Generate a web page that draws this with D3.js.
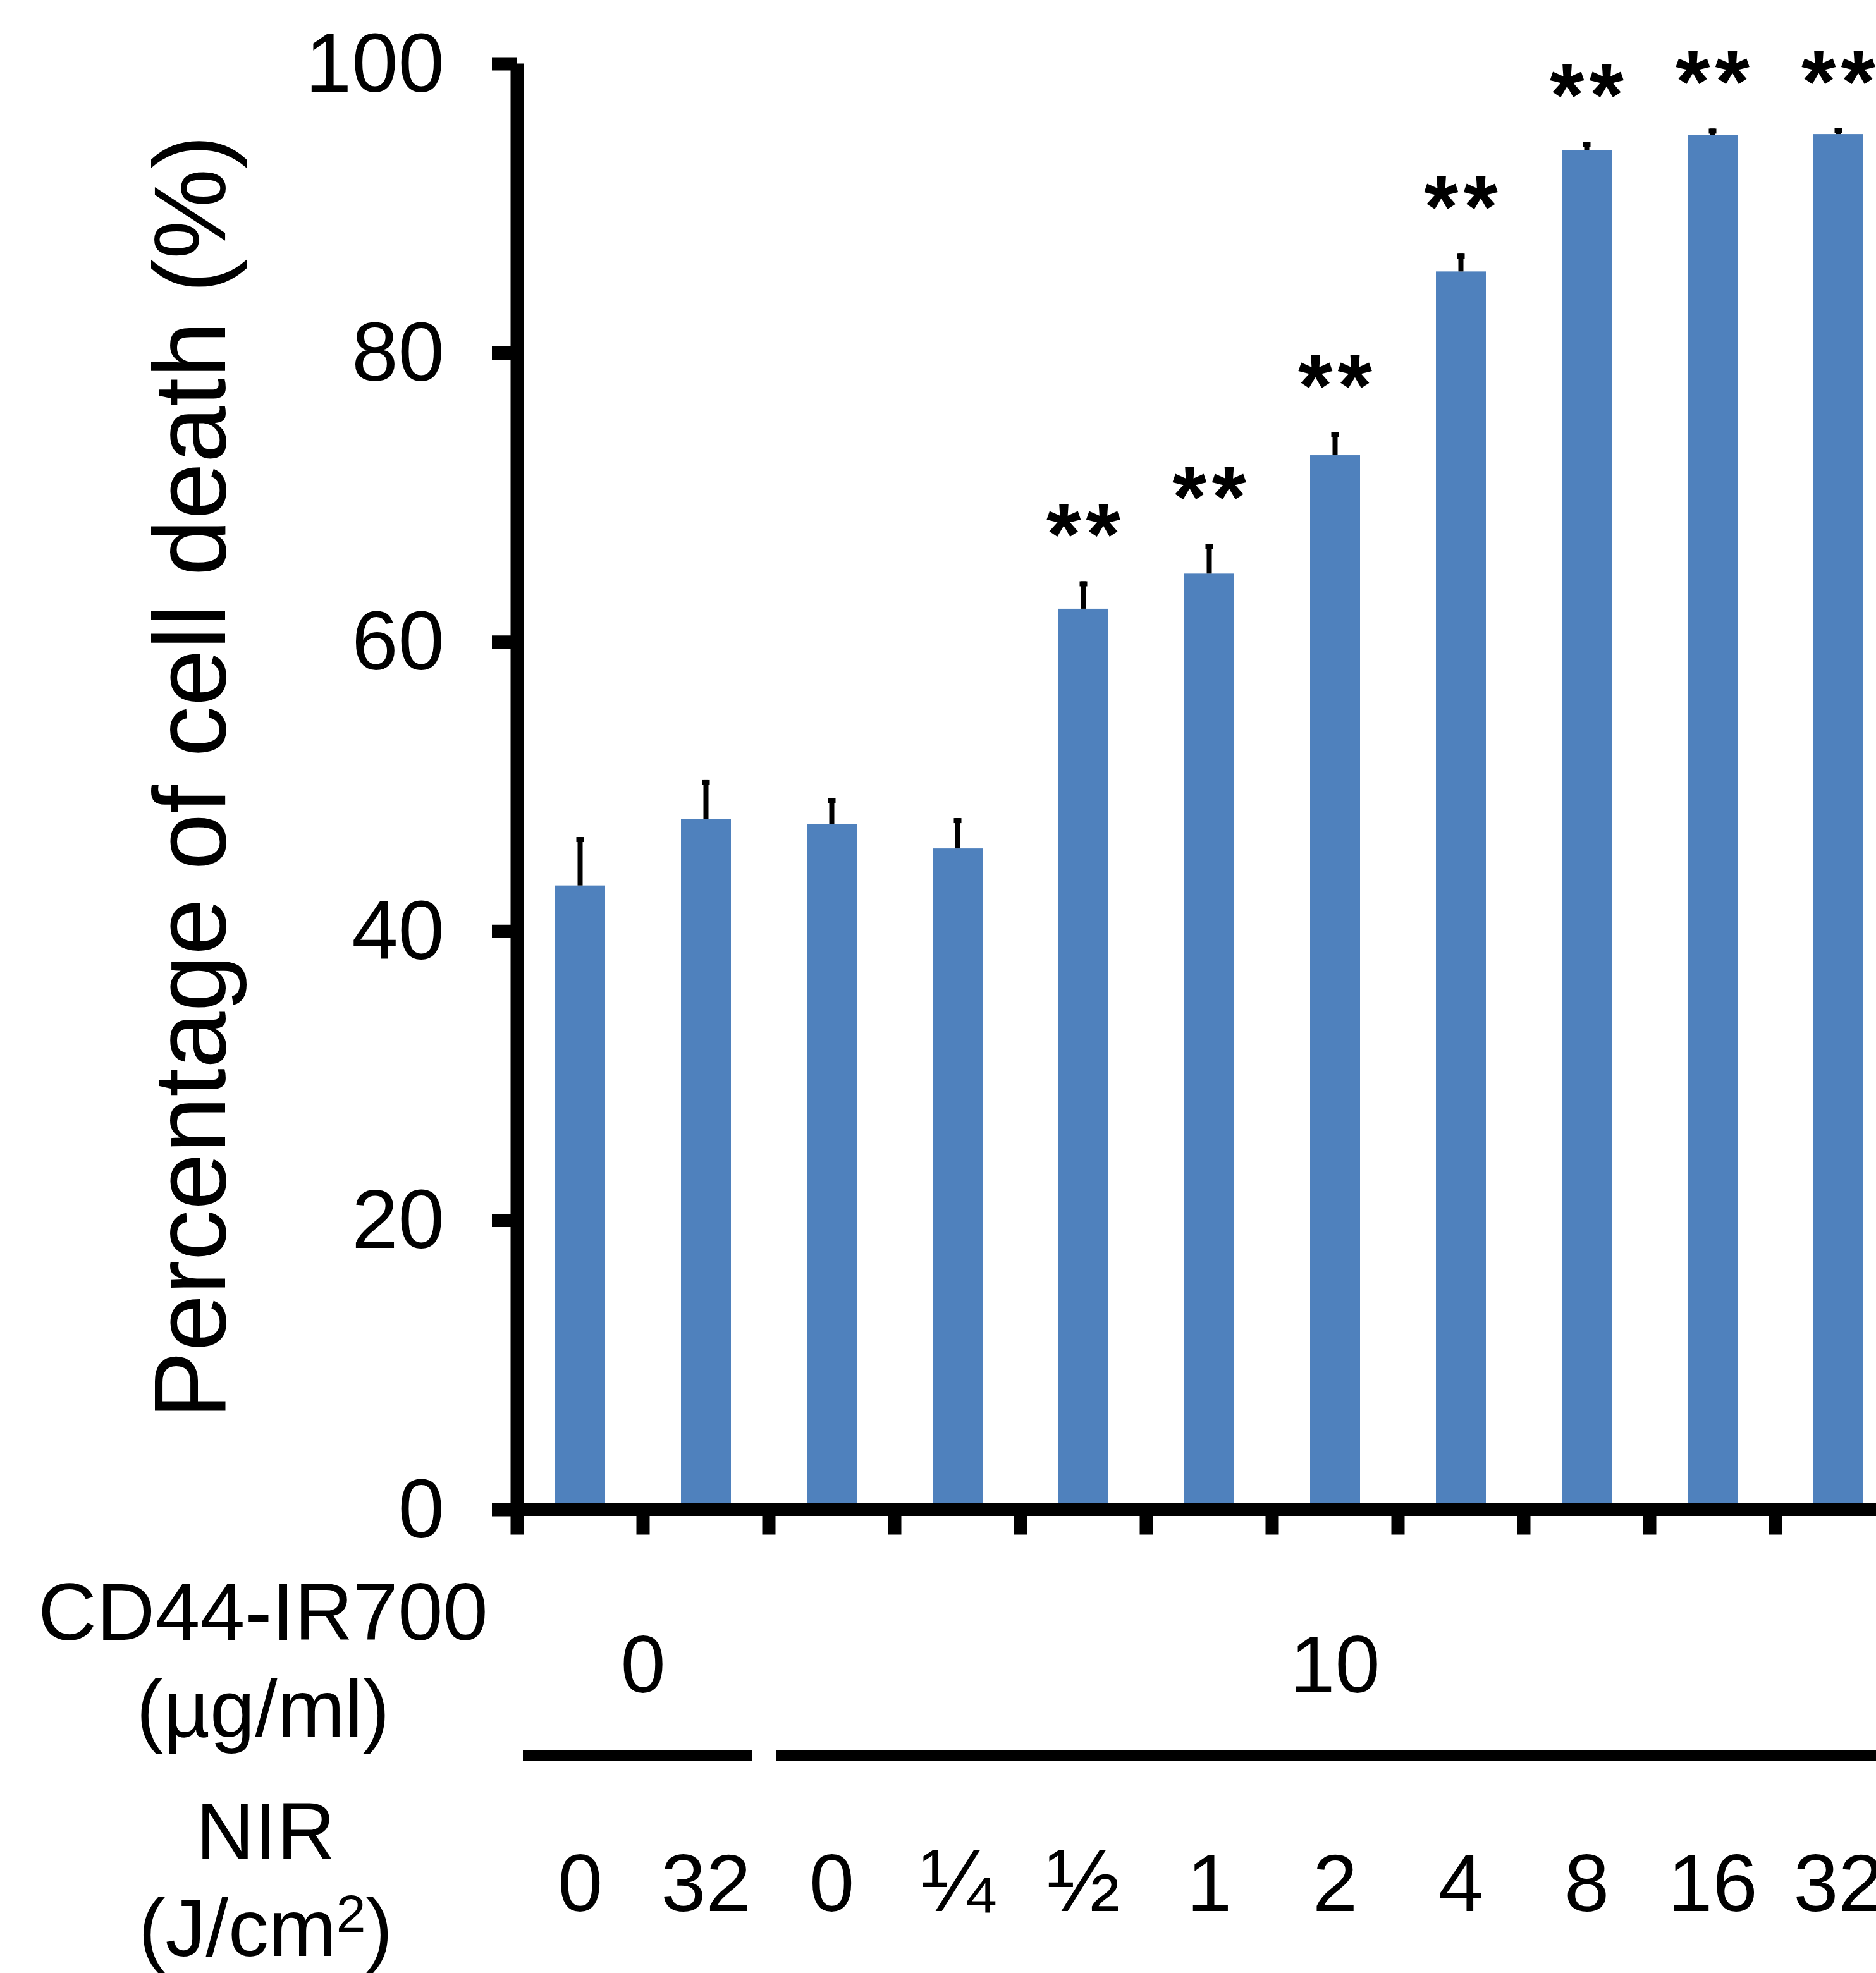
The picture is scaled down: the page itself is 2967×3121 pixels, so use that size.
<!DOCTYPE html>
<html>
<head>
<meta charset="utf-8">
<script src="https://cdn.jsdelivr.net/npm/d3@7"></script>
<style>
  html, body { margin: 0; padding: 0; background: #ffffff; }
  svg { display: block; }
  text { font-family: "Liberation Sans", Arial, sans-serif; fill: #000; }
</style>
</head>
<body>
<script>
// NIR light dose for each condition (J/cm²)
const nirLabels = ["0", "32", "0", "¼", "½", "1", "2", "4", "8", "16", "32"];
// Mean percentage of cell death and its error (SEM)
const deathPct = [43.15, 47.74, 47.42, 45.71, 62.29, 64.72, 72.91, 85.62, 94.03, 95.04, 95.12];
const errPct   = [3.35, 2.70, 1.76, 2.10, 1.90, 2.07, 1.58, 1.23, 0.55, 0.46, 0.42];
// Significance markers
const signif = ["", "", "", "", "**", "**", "**", "**", "**", "**", "**"];
// CD44-IR700 concentration groups (µg/ml), given as ranges of condition indices
const doseLabels = ["0", "10"];
const doseFrom   = [0, 2];
const doseTo     = [2, 11];
// Y-axis ticks
const yTicks = [0, 20, 40, 60, 80, 100];

const W = 2967, H = 3121;
const svg = d3.select("body").append("svg")
  .attr("width", W).attr("height", H)
  .attr("viewBox", `0 0 ${W} ${H}`);
svg.append("rect").attr("width", W).attr("height", H).attr("fill", "#fff");

const axisX = 818, axisY = 2387.5, step = 199;
const n = deathPct.length;
const x = d3.scaleBand().domain(d3.range(n)).range([axisX, axisX + step * n]).padding(0);
const barW = x.bandwidth() * 0.397;
const y = d3.scaleLinear().domain([0, 100]).range([axisY, 100.5]);
const boundary = i => axisX + x.step() * i;
const cx = i => x(i) + x.bandwidth() / 2;

const AXW = 21;

// Bars
svg.append("g").selectAll("rect").data(deathPct).join("rect")
  .attr("x", (d, i) => cx(i) - barW / 2)
  .attr("width", barW)
  .attr("y", d => y(d))
  .attr("height", d => y(0) - y(d))
  .attr("fill", "#4F81BD");

// Error bars (upper only)
const eb = svg.append("g");
eb.selectAll("line").data(deathPct).join("line")
  .attr("x1", (d, i) => cx(i))
  .attr("x2", (d, i) => cx(i))
  .attr("y1", d => y(d))
  .attr("y2", (d, i) => y(d + errPct[i]))
  .attr("stroke", "#000").attr("stroke-width", 8);
eb.selectAll("rect").data(deathPct).join("rect")
  .attr("x", (d, i) => cx(i) - 6)
  .attr("y", (d, i) => y(d + errPct[i]))
  .attr("width", 12).attr("height", 8)
  .attr("fill", "#000");

// Significance asterisks
svg.append("g").selectAll("text").data(signif).join("text")
  .attr("x", (d, i) => cx(i) + 4)
  .attr("y", (d, i) => y(deathPct[i] + errPct[i]) - 26)
  .attr("text-anchor", "middle")
  .attr("font-size", 140)
  .attr("font-weight", "bold")
  .attr("letter-spacing", 8)
  .text(d => d);

// Y axis
const yAxis = d3.axisLeft(y).tickValues(yTicks).tickSize(40).tickPadding(75).tickSizeOuter(0);
const gy = svg.append("g").attr("transform", `translate(${axisX},0)`).call(yAxis);
gy.select(".domain").remove();
gy.selectAll(".tick line").attr("stroke", "#000").attr("stroke-width", AXW);
gy.selectAll(".tick text")
  .attr("font-size", 132)
  .attr("font-family", '"Liberation Sans", Arial, sans-serif')
  .attr("dy", "0.33em");
svg.append("line")
  .attr("x1", axisX).attr("x2", axisX)
  .attr("y1", y(100)).attr("y2", axisY + 40)
  .attr("stroke", "#000").attr("stroke-width", AXW);

// X axis line and category boundary ticks
svg.append("line")
  .attr("x1", axisX - 40).attr("x2", boundary(n))
  .attr("y1", axisY).attr("y2", axisY)
  .attr("stroke", "#000").attr("stroke-width", AXW);
svg.append("g").selectAll("line").data(d3.range(1, n + 1)).join("line")
  .attr("x1", i => boundary(i)).attr("x2", i => boundary(i))
  .attr("y1", axisY).attr("y2", axisY + 40)
  .attr("stroke", "#000").attr("stroke-width", AXW);

// Y axis title
svg.append("text")
  .attr("transform", `translate(356,1229) rotate(-90)`)
  .attr("text-anchor", "middle")
  .attr("font-size", 161)
  .text("Percentage of cell death (%)");

// Row headers
const hx = 416;
svg.append("text").attr("x", hx).attr("y", 2594).attr("text-anchor", "middle")
  .attr("font-size", 128).text("CD44-IR700");
svg.append("text").attr("x", hx).attr("y", 2747).attr("text-anchor", "middle")
  .attr("font-size", 128).text("(µg/ml)");
svg.append("text").attr("x", hx + 4).attr("y", 2941).attr("text-anchor", "middle")
  .attr("font-size", 128).text("NIR");
const unit = svg.append("text").attr("x", hx + 4).attr("y", 3094).attr("text-anchor", "middle")
  .attr("font-size", 128);
unit.append("tspan").text("(J/cm");
unit.append("tspan").attr("font-size", 84).attr("dy", -38).text("2");
unit.append("tspan").attr("dy", 38).text(")");

// Concentration groups: label and underline
const grp = svg.append("g");
grp.selectAll("text").data(doseLabels).join("text")
  .attr("x", (d, i) => (boundary(doseFrom[i]) + boundary(doseTo[i])) / 2)
  .attr("y", 2677)
  .attr("text-anchor", "middle")
  .attr("font-size", 128)
  .text(d => d);
grp.selectAll("line").data(doseLabels).join("line")
  .attr("x1", (d, i) => boundary(doseFrom[i]) + (i === 0 ? 9 : 11))
  .attr("x2", (d, i) => boundary(doseTo[i]) - 26)
  .attr("y1", 2777.5).attr("y2", 2777.5)
  .attr("stroke", "#000").attr("stroke-width", 17);

// NIR dose labels under each bar
svg.append("g").selectAll("text").data(nirLabels).join("text")
  .attr("x", (d, i) => cx(i))
  .attr("y", 3023)
  .attr("text-anchor", "middle")
  .attr("font-size", d => d.length === 1 && isNaN(+d) ? 140 : 128)
  .text(d => d);
</script>
</body>
</html>
